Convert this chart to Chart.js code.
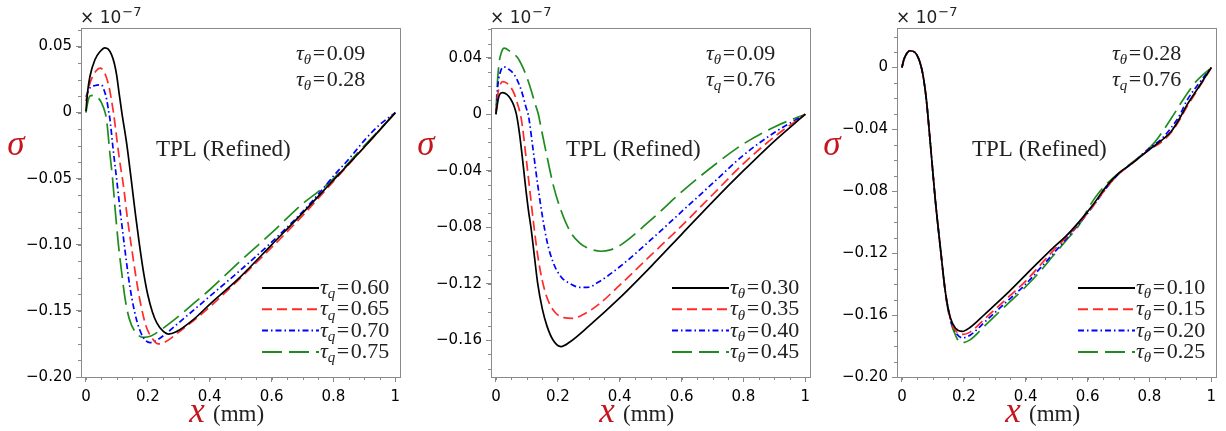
<!DOCTYPE html>
<html>
<head>
<meta charset="utf-8">
<script src="https://cdn.jsdelivr.net/npm/chart.js@4.4.1/dist/chart.umd.min.js"></script>
<style>
html, body { margin: 0; padding: 0; background: #fff; }
#wrap { position: relative; width: 1226px; height: 431px; overflow: hidden; }
canvas { position: absolute; top: 0; }
</style>
</head>
<body>
<div id="wrap">
<canvas id="c1" width="410" height="431" style="left:0px"></canvas>
<canvas id="c2" width="410" height="431" style="left:410px"></canvas>
<canvas id="c3" width="410" height="431" style="left:816px"></canvas>
</div>
<script>
// ---- data (sigma x 1e-7 against x in mm) ----
var xTicks = [0, 0.2, 0.4, 0.6, 0.8, 1];

// panel 1 : tau_q varies
var p1Labels = ['0.60', '0.65', '0.70', '0.75'];
var p1YTicks = [-0.20, -0.15, -0.10, -0.05, 0, 0.05];
var p1Black = [[0,0.001],[0.005,0.015],[0.013,0.0275],[0.029,0.04],[0.045,0.046],[0.061,0.049],[0.072,0.048],[0.083,0.0437],[0.092,0.037],[0.099,0.0287],[0.107,0.015],[0.116,0],[0.132,-0.024],[0.146,-0.05],[0.16,-0.077],[0.173,-0.1],[0.187,-0.122],[0.2,-0.138],[0.215,-0.151],[0.229,-0.159],[0.25,-0.1655],[0.266,-0.1675],[0.29,-0.166],[0.35,-0.156],[0.4,-0.145],[0.5,-0.124],[0.6,-0.1],[0.7,-0.076],[0.8,-0.051],[0.9,-0.026],[1,0]];
var p1Red = [[0,0.0087],[0.01,0.02],[0.025,0.029],[0.047,0.0337],[0.058,0.031],[0.067,0.026],[0.076,0.018],[0.083,0.0087],[0.089,0],[0.094,-0.009],[0.108,-0.035],[0.121,-0.055],[0.134,-0.08],[0.148,-0.103],[0.162,-0.125],[0.177,-0.145],[0.195,-0.162],[0.215,-0.171],[0.234,-0.175],[0.26,-0.173],[0.3,-0.166],[0.35,-0.157],[0.4,-0.147],[0.5,-0.125],[0.6,-0.102],[0.7,-0.078],[0.8,-0.052],[0.9,-0.026],[1,0]];
var p1Blue = [[0,0.012],[0.013,0.0187],[0.03,0.0205],[0.05,0.021],[0.06,0.016],[0.067,0.01],[0.074,0],[0.077,-0.004],[0.088,-0.028],[0.099,-0.05],[0.111,-0.075],[0.124,-0.1],[0.136,-0.122],[0.148,-0.14],[0.165,-0.158],[0.185,-0.17],[0.207,-0.174],[0.23,-0.172],[0.26,-0.167],[0.3,-0.159],[0.35,-0.149],[0.4,-0.139],[0.5,-0.119],[0.6,-0.098],[0.7,-0.075],[0.75,-0.062],[0.8,-0.048],[0.85,-0.035],[0.9,-0.021],[0.95,-0.009],[1,0]];
var p1Green = [[0,0],[0.006,0.008],[0.013,0.0125],[0.029,0.013],[0.04,0.011],[0.05,0.0075],[0.062,0],[0.067,-0.006],[0.077,-0.03],[0.086,-0.05],[0.095,-0.075],[0.105,-0.1],[0.115,-0.12],[0.126,-0.14],[0.14,-0.156],[0.16,-0.166],[0.186,-0.17],[0.21,-0.169],[0.25,-0.163],[0.3,-0.154],[0.35,-0.144],[0.4,-0.134],[0.5,-0.112],[0.6,-0.091],[0.7,-0.069],[0.75,-0.06],[0.8,-0.05],[0.9,-0.025],[1,0]];

// panel 2 : tau_theta varies
var p2Labels = ['0.30', '0.35', '0.40', '0.45'];
var p2YTicks = [-0.16, -0.12, -0.08, -0.04, 0, 0.04];
var p2Black = [[0,0],[0.006,0.009],[0.012,0.014],[0.022,0.0153],[0.035,0.014],[0.048,0.0106],[0.058,0.006],[0.066,0],[0.075,-0.012],[0.085,-0.03],[0.095,-0.05],[0.105,-0.068],[0.113,-0.08],[0.124,-0.1],[0.135,-0.12],[0.15,-0.138],[0.165,-0.15],[0.185,-0.16],[0.21,-0.1645],[0.24,-0.161],[0.3,-0.15],[0.4,-0.13],[0.5,-0.108],[0.6,-0.085],[0.7,-0.062],[0.8,-0.04],[0.9,-0.019],[1,0]];
var p2Red = [[0,0],[0.006,0.014],[0.012,0.02],[0.022,0.023],[0.035,0.022],[0.048,0.019],[0.06,0.014],[0.07,0.007],[0.079,0],[0.086,-0.0094],[0.097,-0.03],[0.11,-0.055],[0.122,-0.078],[0.135,-0.1],[0.15,-0.118],[0.167,-0.131],[0.19,-0.14],[0.22,-0.144],[0.248,-0.1445],[0.28,-0.142],[0.33,-0.135],[0.4,-0.121],[0.5,-0.1],[0.6,-0.079],[0.7,-0.057],[0.8,-0.035],[0.9,-0.016],[1,0]];
var p2Blue = [[0,0],[0.006,0.02],[0.013,0.029],[0.025,0.0335],[0.04,0.032],[0.059,0.028],[0.075,0.021],[0.086,0.014],[0.097,0.005],[0.104,0],[0.108,-0.005],[0.12,-0.025],[0.135,-0.05],[0.15,-0.072],[0.165,-0.09],[0.185,-0.105],[0.21,-0.115],[0.24,-0.12],[0.27,-0.1225],[0.296,-0.1225],[0.33,-0.119],[0.4,-0.108],[0.5,-0.089],[0.6,-0.069],[0.7,-0.049],[0.8,-0.029],[0.9,-0.013],[1,0]];
var p2Green = [[0,0],[0.004,0.02],[0.01,0.036],[0.018,0.044],[0.027,0.0467],[0.045,0.0445],[0.07,0.04],[0.085,0.034],[0.1,0.026],[0.115,0.016],[0.127,0.007],[0.137,0],[0.148,-0.012],[0.165,-0.03],[0.185,-0.05],[0.21,-0.068],[0.24,-0.083],[0.27,-0.091],[0.3,-0.095],[0.34,-0.097],[0.37,-0.096],[0.4,-0.093],[0.5,-0.075],[0.6,-0.055],[0.7,-0.037],[0.8,-0.021],[0.9,-0.009],[1,0]];

// panel 3 : tau_theta varies (small effect)
var p3Labels = ['0.10', '0.15', '0.20', '0.25'];
var p3YTicks = [-0.20, -0.16, -0.12, -0.08, -0.04, 0];
var p3Black = [[0,0],[0.006,0.005],[0.014,0.0085],[0.025,0.0108],[0.041,0.0099],[0.057,0.004],[0.068,-0.005],[0.079,-0.021],[0.09,-0.045],[0.1,-0.068],[0.108,-0.086],[0.125,-0.118],[0.141,-0.146],[0.157,-0.162],[0.173,-0.1685],[0.195,-0.1705],[0.22,-0.168],[0.27,-0.159],[0.335,-0.147],[0.4,-0.134],[0.45,-0.124],[0.486,-0.117],[0.53,-0.109],[0.573,-0.0996],[0.62,-0.088],[0.66,-0.077],[0.7,-0.0685],[0.75,-0.061],[0.8,-0.053],[0.84,-0.047],[0.87,-0.0414],[0.9,-0.032],[0.919,-0.025],[0.957,-0.0133],[1,0]];
var p3Red = [[0,0],[0.006,0.005],[0.014,0.0085],[0.025,0.0108],[0.041,0.0099],[0.057,0.004],[0.068,-0.005],[0.079,-0.021],[0.09,-0.045],[0.1,-0.068],[0.108,-0.086],[0.125,-0.118],[0.141,-0.146],[0.157,-0.163],[0.173,-0.17],[0.197,-0.1725],[0.22,-0.171],[0.27,-0.162],[0.335,-0.15],[0.4,-0.138],[0.45,-0.127],[0.486,-0.119],[0.53,-0.11],[0.573,-0.1005],[0.62,-0.089],[0.66,-0.078],[0.7,-0.069],[0.75,-0.061],[0.8,-0.053],[0.84,-0.048],[0.87,-0.042],[0.9,-0.033],[0.919,-0.026],[0.957,-0.014],[1,0]];
var p3Blue = [[0,0],[0.006,0.005],[0.014,0.0085],[0.025,0.0108],[0.041,0.0099],[0.057,0.004],[0.068,-0.005],[0.079,-0.021],[0.09,-0.045],[0.1,-0.068],[0.108,-0.086],[0.125,-0.118],[0.141,-0.146],[0.157,-0.163],[0.173,-0.171],[0.197,-0.1747],[0.22,-0.173],[0.27,-0.164],[0.335,-0.152],[0.4,-0.14],[0.45,-0.129],[0.486,-0.121],[0.53,-0.111],[0.573,-0.101],[0.62,-0.089],[0.66,-0.078],[0.7,-0.069],[0.75,-0.061],[0.8,-0.052],[0.84,-0.046],[0.87,-0.039],[0.9,-0.03],[0.919,-0.022],[0.957,-0.011],[1,0]];
var p3Green = [[0,0],[0.006,0.005],[0.014,0.0085],[0.025,0.0108],[0.041,0.0099],[0.057,0.004],[0.068,-0.005],[0.079,-0.021],[0.09,-0.045],[0.1,-0.068],[0.108,-0.086],[0.125,-0.118],[0.141,-0.147],[0.157,-0.164],[0.173,-0.173],[0.19,-0.178],[0.22,-0.176],[0.27,-0.1665],[0.335,-0.154],[0.4,-0.1417],[0.45,-0.131],[0.486,-0.1223],[0.53,-0.112],[0.573,-0.1017],[0.605,-0.09],[0.64,-0.08],[0.681,-0.0716],[0.74,-0.062],[0.8,-0.052],[0.827,-0.0457],[0.87,-0.033],[0.908,-0.021],[0.951,-0.009],[1,0]];

// ---- styles ----
var GRAY = '#8a8a8a';
var RED_TITLE = '#c4161c';
var SERIF = '"Liberation Serif", "Times New Roman", serif';
var SANS = '"DejaVu Sans", Verdana, sans-serif';
var lineStyles = [
    { color: '#000000', dash: [] },
    { color: '#ff2b2b', dash: [10, 5] },
    { color: '#0000ff', dash: [6, 3, 1.5, 3] },
    { color: '#1f8c1f', dash: [20, 7] }
];

function fmtY(v) {
    if (Math.abs(v) < 1e-9) return '0';
    return (v < 0 ? '\u2212' : '') + Math.abs(v).toFixed(2);
}
function fmtX(v) {
    if (Math.abs(v) < 1e-9) return '0';
    if (Math.abs(v - 1) < 1e-9) return '1';
    return v.toFixed(1);
}

function drawTau(ctx, x, y, sub, val, size) {
    ctx.textAlign = 'left';
    ctx.textBaseline = 'alphabetic';
    ctx.fillStyle = '#222';
    ctx.font = 'italic ' + size + 'px ' + SERIF;
    ctx.fillText('\u03c4', x, y);
    x += ctx.measureText('\u03c4').width;
    var s2 = Math.round(size * 0.68);
    ctx.font = 'italic ' + s2 + 'px ' + SERIF;
    ctx.fillText(sub, x, y + size * 0.2);
    x += ctx.measureText(sub).width + 1.5;
    ctx.font = size + 'px ' + SERIF;
    ctx.fillText('=', x, y);
    x += ctx.measureText('=').width + 1.5;
    ctx.fillText(val, x, y);
}

function makePanel(id, series, labels, legendSub, yTicks, yMin, yMax, yMinor, note1, note2) {
    var ctx = document.getElementById(id);
    var datasets = series.map(function (arr, i) {
        return {
            label: labels[i],
            data: arr.map(function (p) { return { x: p[0], y: p[1] }; }),
            borderColor: lineStyles[i].color,
            borderDash: lineStyles[i].dash,
            borderWidth: 1.7,
            pointRadius: 0,
            fill: false,
            cubicInterpolationMode: 'monotone'
        };
    });

    var decor = {
        id: 'decor',
        afterDraw: function (chart) {
            var c = chart.ctx;
            var a = chart.chartArea;
            var xs = chart.scales.x, ys = chart.scales.y;
            c.save();
            // frame
            c.strokeStyle = GRAY;
            c.lineWidth = 1;
            c.setLineDash([]);
            c.strokeRect(Math.round(a.left) + 0.5, Math.round(a.top) + 0.5, Math.round(a.right - a.left), Math.round(a.bottom - a.top));
            // minor ticks
            c.beginPath();
            for (var v = 0; v <= 1.0001; v += 0.05) {
                var px = Math.round(xs.getPixelForValue(v)) + 0.5;
                c.moveTo(px, a.bottom); c.lineTo(px, a.bottom + 3);
            }
            var start = Math.ceil(yMin / yMinor - 1e-6) * yMinor;
            for (var w = start; w <= yMax + 1e-9; w += yMinor) {
                var py = Math.round(ys.getPixelForValue(w)) + 0.5;
                c.moveTo(a.left - 3, py); c.lineTo(a.left, py);
            }
            c.stroke();

            // x 10^-7
            c.fillStyle = '#222';
            c.textAlign = 'left';
            c.textBaseline = 'alphabetic';
            c.font = '17px ' + SANS;
            c.fillText('\u00d7 10', a.left - 1, 23);
            var wTen = c.measureText('\u00d7 10').width;
            c.font = '13px ' + SANS;
            c.fillText('\u22127', a.left - 1 + wTen + 1, 16);

            // axis titles
            c.fillStyle = RED_TITLE;
            c.font = 'italic 35px ' + SERIF;
            c.textAlign = 'center';
            c.fillText('\u03c3', 16, 155);
            c.fillText('x', 197, 422);
            c.fillStyle = '#222';
            c.textAlign = 'left';
            c.font = '23px ' + SERIF;
            c.fillText('(mm)', 213, 421);

            // notes
            c.font = '23px ' + SERIF;
            c.fillText('TPL (Refined)', a.left + 75, 156);
            drawTau(c, a.right - 104, 60, note1[0], note1[1], 22);
            drawTau(c, a.right - 104, 86, note2[0], note2[1], 22);

            // legend
            var lx0 = a.right - 138, lx1 = a.right - 81;
            chart.data.datasets.forEach(function (ds, i) {
                var base = 294 + i * 21.3;
                c.strokeStyle = ds.borderColor;
                c.lineWidth = 2;
                c.setLineDash(ds.borderDash);
                c.beginPath();
                c.moveTo(lx0, base - 6);
                c.lineTo(lx1, base - 6);
                c.stroke();
                c.setLineDash([]);
                drawTau(c, lx1 + 1, base, legendSub, ds.label, 22);
            });
            c.restore();
        }
    };

    return new Chart(ctx, {
        type: 'line',
        data: { datasets: datasets },
        options: {
            responsive: false,
            animation: false,
            events: [],
            layout: { padding: { left: 0, top: 28, right: 10, bottom: 0 } },
            plugins: { legend: { display: false }, tooltip: { enabled: false }, title: { display: false } },
            scales: {
                x: {
                    type: 'linear',
                    min: -0.016,
                    max: 1.015,
                    afterFit: function (s) { s.height = 54; },
                    afterBuildTicks: function (s) { s.ticks = xTicks.map(function (v) { return { value: v }; }); },
                    border: { display: false },
                    grid: { display: true, drawOnChartArea: false, drawTicks: true, tickLength: 5, tickColor: GRAY, color: GRAY },
                    ticks: {
                        color: '#000',
                        padding: 6,
                        maxRotation: 0,
                        font: { family: 'DejaVu Sans', size: 15 },
                        callback: function (v) { return fmtX(v); }
                    }
                },
                y: {
                    type: 'linear',
                    min: yMin,
                    max: yMax,
                    afterFit: function (s) { s.width = 81; },
                    afterBuildTicks: function (s) { s.ticks = yTicks.map(function (v) { return { value: v }; }); },
                    border: { display: false },
                    grid: { display: true, drawOnChartArea: false, drawTicks: true, tickLength: 5, tickColor: GRAY, color: GRAY },
                    ticks: {
                        color: '#000',
                        padding: 4,
                        font: { family: 'DejaVu Sans', size: 15 },
                        callback: function (v) { return fmtY(v); }
                    }
                }
            }
        },
        plugins: [decor]
    });
}

makePanel('c1', [p1Black, p1Red, p1Blue, p1Green], p1Labels, 'q', p1YTicks, -0.2, 0.064, 0.0125, ['\u03b8', '0.09'], ['\u03b8', '0.28']);
makePanel('c2', [p2Black, p2Red, p2Blue, p2Green], p2Labels, '\u03b8', p2YTicks, -0.186, 0.061, 0.01, ['\u03b8', '0.09'], ['q', '0.76']);
makePanel('c3', [p3Black, p3Red, p3Blue, p3Green], p3Labels, '\u03b8', p3YTicks, -0.2, 0.0255, 0.01, ['\u03b8', '0.28'], ['q', '0.76']);
</script>
</body>
</html>
